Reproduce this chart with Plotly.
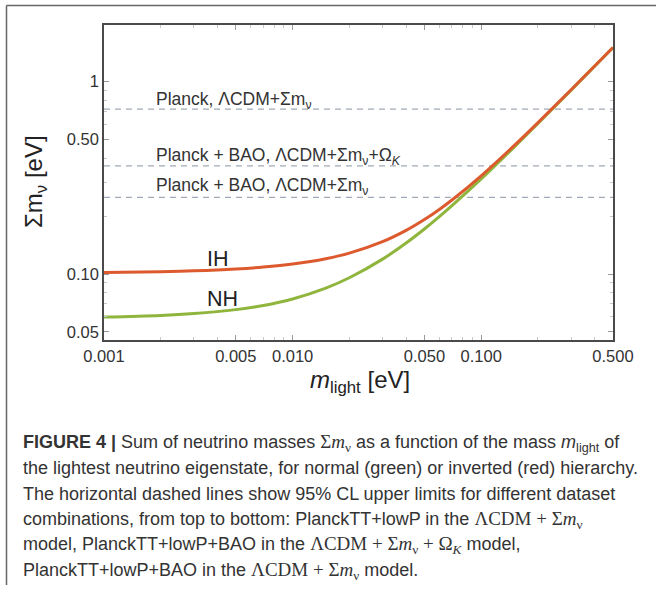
import plotly.graph_objects as go
import math

# ---- data ----
m_light = [0.001, 0.002, 0.003, 0.005, 0.007, 0.01, 0.015, 0.02, 0.03, 0.04,
           0.05, 0.06, 0.07, 0.1, 0.15, 0.2, 0.3, 0.5]
sum_nh = [0.0597, 0.0609, 0.0623, 0.0653, 0.0686, 0.0742, 0.0845, 0.0956, 0.1195, 0.145,
          0.1715, 0.1987, 0.2266, 0.312, 0.458, 0.606, 0.904, 1.503]
sum_ih = [0.1018, 0.1028, 0.1039, 0.1062, 0.1087, 0.1127, 0.1201, 0.1284, 0.1473, 0.1686,
          0.192, 0.2167, 0.2425, 0.324, 0.4665, 0.6125, 0.908, 1.505]
limits = [0.72, 0.365, 0.25]
limit_labels = [
    "Planck, ΛCDM+Σm<sub>ν</sub>",
    "Planck + BAO, ΛCDM+Σm<sub>ν</sub>+Ω<sub><i>K</i></sub>",
    "Planck + BAO, ΛCDM+Σm<sub>ν</sub>",
]
x_ticks = [0.001, 0.005, 0.01, 0.05, 0.1, 0.5]
x_ticktext = ["0.001", "0.005", "0.010", "0.050", "0.100", "0.500"]
y_ticks = [0.05, 0.1, 0.5, 1]
y_ticktext = ["0.05", "0.10", "0.50", "1"]
x_range = [0.001, 0.5]
y_range = [0.0454, 1.97]

W, H = 656, 592
L, R, T, B = 104, 613, 25, 340


def px(x):
    return (x - L) / (R - L)


def py(y):
    return (B - y) / (B - T)


fig = go.Figure()

for val in limits:
    fig.add_trace(go.Scatter(x=x_range, y=[val, val], mode="lines",
                             line=dict(color="#a0aab8", width=1.3, dash="6px,5px"),
                             hoverinfo="skip", showlegend=False))

fig.add_trace(go.Scatter(x=m_light, y=sum_nh, mode="lines", line_shape="spline",
                         line=dict(color="#8fb53c", width=3), showlegend=False))
fig.add_trace(go.Scatter(x=m_light, y=sum_ih, mode="lines", line_shape="spline",
                         line=dict(color="#dc5a2e", width=3), showlegend=False))

minor_x = [k * 10 ** e for e in (-3, -2, -1) for k in range(2, 10) if k * 10 ** e < 0.5]
minor_y = [k * 10 ** e for e in (-2, -1, 0) for k in range(2, 10) if 0.0454 < k * 10 ** e < 1.97]

axis_common = dict(showgrid=False, zeroline=False, showline=True, mirror="allticks",
                   linecolor="#4a4a4a", linewidth=1.6, ticks="inside", ticklen=5,
                   tickcolor="#9a9a9a", tickwidth=1,
                   tickfont=dict(family="Liberation Sans, Arial", size=16.5, color="#333333"))

fig.update_xaxes(type="log", range=[math.log10(x_range[0]), math.log10(x_range[1])],
                 tickvals=x_ticks, ticktext=x_ticktext,
                 minor=dict(tickvals=minor_x, ticks="inside", ticklen=3, tickcolor="#c8c8c8"),
                 **axis_common)
fig.update_yaxes(type="log", range=[math.log10(y_range[0]), math.log10(y_range[1])],
                 tickvals=y_ticks, ticktext=y_ticktext,
                 minor=dict(tickvals=minor_y, ticks="inside", ticklen=3, tickcolor="#c8c8c8"),
                 **axis_common)

ann = []
lab_font = dict(family="Liberation Sans, Arial", size=17.5, color="#333333")
for lbl, ycen in zip(limit_labels, [100, 156, 186]):
    ann.append(dict(text=lbl, x=px(154), y=py(ycen), xref="paper", yref="paper",
                    xanchor="left", yanchor="middle", showarrow=False, font=lab_font))

big = dict(family="Liberation Sans, Arial", size=21.5, color="#222222")
ann.append(dict(text="IH", x=px(205), y=py(259), xref="paper", yref="paper",
                xanchor="left", yanchor="middle", showarrow=False, font=big))
ann.append(dict(text="NH", x=px(205), y=py(299), xref="paper", yref="paper",
                xanchor="left", yanchor="middle", showarrow=False, font=big))

ttl = dict(family="Liberation Sans, Arial", size=24, color="#222222")
ann.append(dict(text="Σm<sub>ν</sub> [eV]", x=px(35), y=py(182), xref="paper", yref="paper",
                xanchor="center", yanchor="middle", textangle=-90, showarrow=False, font=ttl))
ann.append(dict(text="<i>m</i><sub>light</sub> [eV]", x=px(360), y=py(381), xref="paper",
                yref="paper", xanchor="center", yanchor="middle", showarrow=False, font=ttl))

S = "<span style='font-family:Liberation Serif;font-size:19px'>"
E = "</span>"
sm = S + "Σ<i>m</i><sub>ν</sub>" + E
caption = [
    "<b>FIGURE 4 |</b> Sum of neutrino masses " + sm + " as a function of the mass <i>m</i><sub>light</sub> of",
    "the lightest neutrino eigenstate, for normal (green) or inverted (red) hierarchy.",
    "The horizontal dashed lines show 95% CL upper limits for different dataset",
    "combinations, from top to bottom: PlanckTT+lowP in the " + S + "ΛCDM + Σ<i>m</i><sub>ν</sub>" + E,
    "model, PlanckTT+lowP+BAO in the " + S + "ΛCDM + Σ<i>m</i><sub>ν</sub> + Ω<sub><i>K</i></sub>" + E + " model,",
    "PlanckTT+lowP+BAO in the " + S + "ΛCDM + Σ<i>m</i><sub>ν</sub>" + E + " model.",
]
cap_font = dict(family="Liberation Sans, Arial", size=18, color="#333333")
for i, line in enumerate(caption):
    ann.append(dict(text=line, x=px(21), y=py(443 + 25.5 * i), xref="paper", yref="paper",
                    xanchor="left", yanchor="middle", showarrow=False, font=cap_font))

fig.update_layout(
    width=W, height=H,
    margin=dict(l=L, r=W - R, t=T, b=H - B),
    paper_bgcolor="white", plot_bgcolor="white",
    annotations=ann,
    shapes=[
        dict(type="line", xref="paper", yref="paper", x0=px(6.5), x1=px(660), y0=py(5.5), y1=py(5.5),
             line=dict(color="#666666", width=1.5)),
        dict(type="line", xref="paper", yref="paper", x0=px(6.5), x1=px(6.5), y0=py(5.5), y1=py(585),
             line=dict(color="#666666", width=1.5)),
    ],
)

fig.write_html("out.html")
